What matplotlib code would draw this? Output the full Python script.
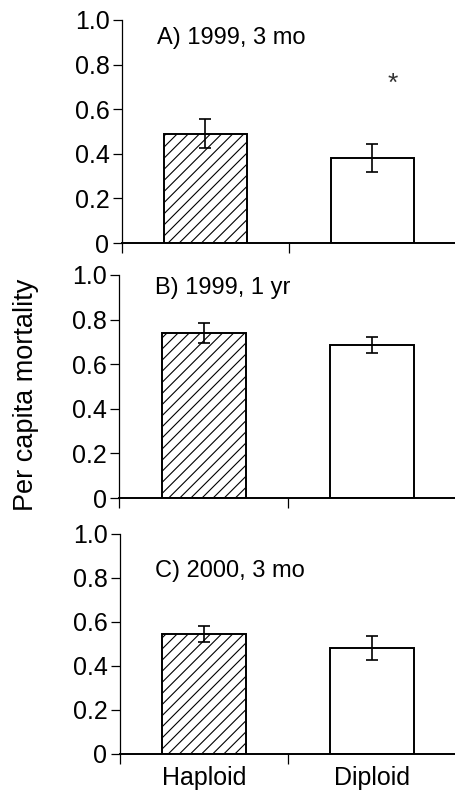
import matplotlib
matplotlib.use("Agg")
import matplotlib.pyplot as plt

categories = ["Haploid", "Diploid"]
panel_labels = ["A) 1999, 3 mo", "B) 1999, 1 yr", "C) 2000, 3 mo"]
means = [[0.49, 0.38], [0.74, 0.685], [0.545, 0.48]]
errors = [[0.065, 0.063], [0.045, 0.035], [0.035, 0.055]]
yticks = [0, 0.2, 0.4, 0.6, 0.8, 1.0]
ytick_labels = ["0", "0.2", "0.4", "0.6", "0.8", "1.0"]

plt.rcParams['font.family'] = ['Liberation Sans', 'DejaVu Sans']
plt.rcParams['hatch.linewidth'] = 0.8

fig = plt.figure(figsize=(4.56, 7.9), dpi=100)
positions = [
    (0.2675, 0.6924, 0.7325, 0.2823),
    (0.2620, 0.3696, 0.7380, 0.2823),
    (0.2630, 0.0456, 0.7370, 0.2785),
]
label_y = [0.92, 0.94, 0.83]

for i, pos in enumerate(positions):
    ax = fig.add_axes(pos)
    x = range(len(categories))
    ax.bar(x, means[i], width=0.5, color="white", edgecolor="black",
           linewidth=1.4, hatch=["///", None], zorder=2)
    ax.errorbar(x, means[i], yerr=errors[i], fmt="none", ecolor="black",
                elinewidth=1.2, capsize=4.5, capthick=1.2, zorder=3)
    ax.set_xlim(-0.5, 1.465)
    ax.set_ylim(0, 1.0)
    ax.set_yticks(yticks)
    ax.set_yticklabels(ytick_labels, fontsize=18)
    ax.set_xticks([-0.5, 0.5, 1.5], minor=False)
    ax.set_xticklabels([])
    ax.tick_params(axis="y", direction="out", length=6.5, width=0.9, pad=2.5)
    ax.tick_params(axis="x", direction="out", length=7, width=0.9)
    ax.set_xticks(list(x), minor=True)
    ax.tick_params(axis="x", which="minor", length=0)
    if i == 2:
        ax.set_xticklabels(categories, minor=True, fontsize=18)
        ax.tick_params(axis="x", which="minor", pad=9)
    for s in ["top", "right"]:
        ax.spines[s].set_visible(False)
    ax.spines["left"].set_linewidth(0.9)
    ax.spines["bottom"].set_linewidth(1.4)
    ax.spines["left"].set_bounds(0, 1.0)
    ax.text(-0.29, label_y[i], panel_labels[i], fontsize=17, ha="left", va="center")
    if i == 0:
        ax.text(1.12, 0.715, "*", fontsize=19, ha="center", va="center",
                color="#333333")

fig.text(0.057, 0.5, "Per capita mortality", rotation=90, fontsize=19.5,
         ha="center", va="center")

fig.savefig("out.png", dpi=100)
